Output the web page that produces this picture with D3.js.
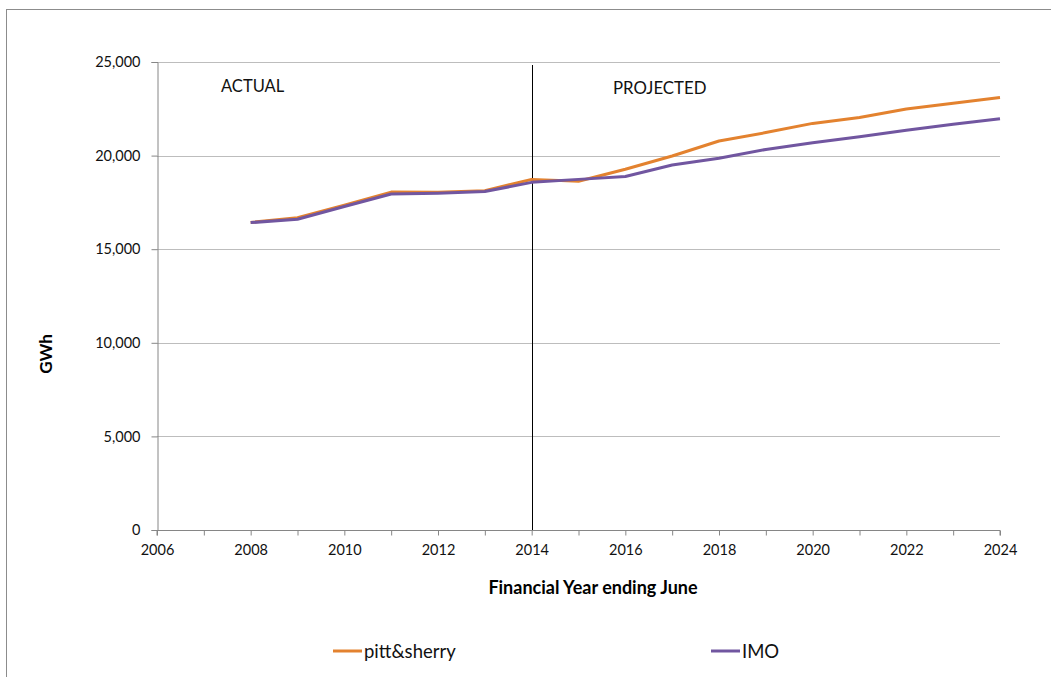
<!DOCTYPE html>
<html>
<head>
<meta charset="utf-8">
<script src="https://cdn.jsdelivr.net/npm/d3@7"></script>
<style>
  html, body { margin: 0; padding: 0; background: #fff; }
  svg { display: block; }
  svg text { font-family: Lato, "Open Sans", "Liberation Sans", sans-serif; }
</style>
</head>
<body>
<svg id="chart" width="1051" height="677"></svg>
<script>
// Electricity demand, financial years ending June (GWh)
const years = [2008, 2009, 2010, 2011, 2012, 2013, 2014, 2015, 2016, 2017, 2018, 2019, 2020, 2021, 2022, 2023, 2024];
const pittSherry = [16430, 16680, 17350, 18050, 18040, 18120, 18730, 18630, 19270, 19980, 20780, 21230, 21720, 22030, 22490, 22800, 23100];
const imo = [16420, 16600, 17280, 17950, 17990, 18080, 18570, 18730, 18880, 19500, 19860, 20330, 20690, 21010, 21360, 21670, 21970];
const yTicks = [0, 5000, 10000, 15000, 20000, 25000];
const xTickLabels = [2006, 2008, 2010, 2012, 2014, 2016, 2018, 2020, 2022, 2024];
const splitYear = 2014;

const series = [
  { name: "pitt&sherry", values: pittSherry, color: "#e3822f" },
  { name: "IMO", values: imo, color: "#7156a0" }
];

const svg = d3.select("#chart");
const plot = { left: 157, right: 1000, top: 62, bottom: 530 };

const x = d3.scaleLinear().domain([2006, 2024]).range([plot.left, plot.right]);
const y = d3.scaleLinear().domain([0, 25000]).range([plot.bottom, plot.top]);

// Outer chart frame
svg.append("rect")
  .attr("x", 6.5).attr("y", 9.5)
  .attr("width", 1100).attr("height", 700)
  .attr("fill", "none").attr("stroke", "#8c8c8c").attr("stroke-width", 1);

// Horizontal gridlines
svg.append("g").selectAll("line")
  .data(yTicks.filter(d => d > 0))
  .join("line")
  .attr("x1", plot.left).attr("x2", plot.right)
  .attr("y1", d => Math.round(y(d)) + 0.5).attr("y2", d => Math.round(y(d)) + 0.5)
  .attr("stroke", "#bdbdbd").attr("stroke-width", 1.2);

// Y axis
const yAxis = svg.append("g")
  .attr("transform", `translate(${plot.left + 0.5},0)`)
  .call(d3.axisLeft(y).tickValues(yTicks).tickSize(6).tickPadding(11).tickFormat(d3.format(",")));
yAxis.attr("font-family", null);
yAxis.select(".domain").attr("stroke", "#868686");
yAxis.selectAll(".tick line").attr("stroke", "#868686");
yAxis.selectAll("text").attr("font-size", 14.5).attr("fill", "#111");

// X axis: ticks every year, labels every second year
const xAxis = svg.append("g")
  .attr("transform", `translate(0,${plot.bottom + 0.5})`)
  .call(d3.axisBottom(x).tickValues(d3.range(2006, 2025)).tickSize(5).tickPadding(9)
    .tickFormat(d => xTickLabels.includes(d) ? String(d) : ""));
xAxis.attr("font-family", null);
xAxis.select(".domain").attr("stroke", "#868686").attr("d", `M${plot.left},5V0H${plot.right}V5`);
xAxis.selectAll(".tick line").attr("stroke", "#868686");
xAxis.selectAll("text").attr("font-size", 14.5).attr("fill", "#111");

// Actual / projected divider
svg.append("line")
  .attr("x1", Math.round(x(splitYear)) + 0.5).attr("x2", Math.round(x(splitYear)) + 0.5)
  .attr("y1", 65).attr("y2", plot.bottom)
  .attr("stroke", "#000").attr("stroke-width", 1);

svg.append("text").attr("x", 221).attr("y", 92)
  .attr("font-size", 16.5).attr("fill", "#111").text("ACTUAL");
svg.append("text").attr("x", 613).attr("y", 94)
  .attr("font-size", 16.8).attr("fill", "#111").text("PROJECTED");

// Series lines
const line = d3.line().x((d, i) => x(years[i])).y(d => y(d));
svg.append("g").selectAll("path")
  .data(series)
  .join("path")
  .attr("d", d => line(d.values))
  .attr("fill", "none")
  .attr("stroke", d => d.color)
  .attr("stroke-width", 3)
  .attr("stroke-linejoin", "round");

// Axis titles
svg.append("text")
  .attr("transform", "translate(52,354) rotate(-90)")
  .attr("text-anchor", "middle").attr("font-size", 17).attr("font-weight", "bold")
  .attr("fill", "#000").text("GWh");
svg.append("text")
  .attr("x", 593).attr("y", 594)
  .attr("text-anchor", "middle").attr("font-size", 18).attr("font-weight", "bold")
  .attr("fill", "#000").text("Financial Year ending June");

// Legend
const legendPos = [{ x: 333 }, { x: 711 }];
const legend = svg.append("g").selectAll("g")
  .data(series)
  .join("g")
  .attr("transform", (d, i) => `translate(${legendPos[i].x},651)`);
legend.append("line")
  .attr("x1", 0).attr("x2", 29).attr("y1", 0).attr("y2", 0)
  .attr("stroke", d => d.color).attr("stroke-width", 3);
legend.append("text")
  .attr("x", 31).attr("y", 6.5)
  .attr("font-size", 18.5).attr("fill", "#111")
  .text(d => d.name);
</script>
</body>
</html>
